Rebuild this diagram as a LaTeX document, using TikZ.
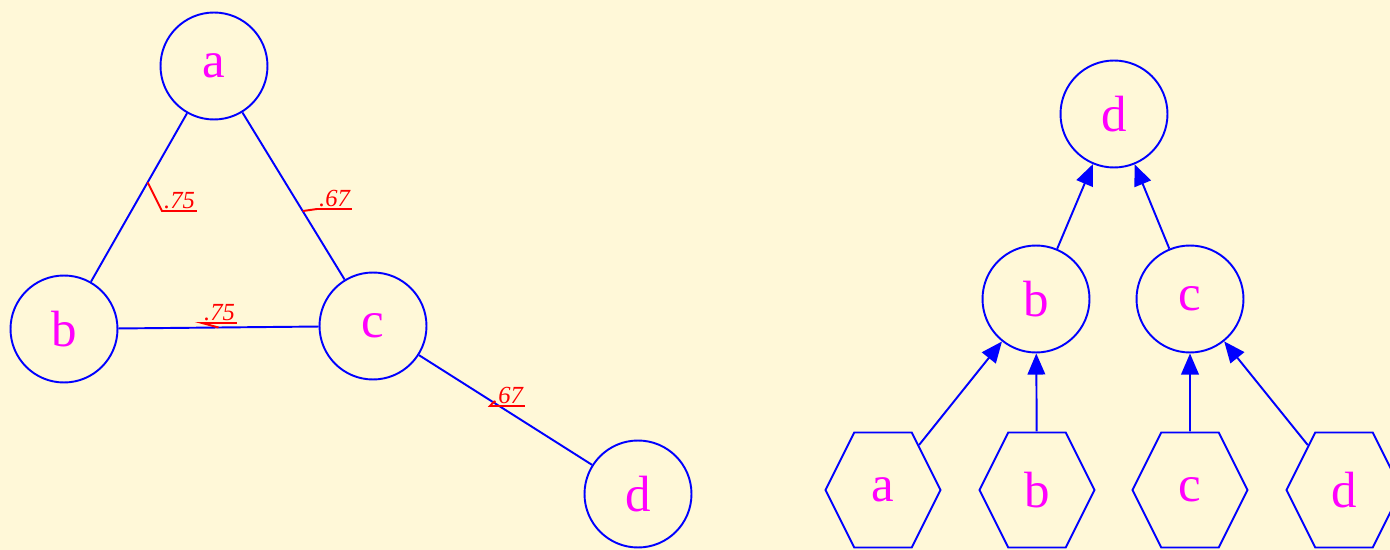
\documentclass[tikz,border=0pt]{standalone}
\usepackage{fontspec}
\setmainfont{Liberation Serif}
\usetikzlibrary{positioning,shapes.geometric,arrows.meta}
\definecolor{gbg}{HTML}{FFF8D8}
\definecolor{gblue}{HTML}{0000FF}
\definecolor{gmag}{HTML}{FF00FF}
\definecolor{gred}{HTML}{FF0000}
% leaf hexagons are stretched upright, so their letters are squeezed back
\newcommand\leaftext[1]{\scalebox{1}[0.866]{#1}}

\begin{document}
\begin{tikzpicture}[
  x=0.02cm,y=-0.02cm,
  vertex/.style={circle,draw=gblue,line width=1.1pt,minimum size=2.14cm,
                 inner sep=0pt,text=gmag,font=\fontsize{29}{34}\selectfont},
  leaf/.style={regular polygon,regular polygon sides=6,yscale=1.1547,
               draw=gblue,line width=1.1pt,minimum size=2.3cm,inner sep=0pt,
               text=gmag,font=\fontsize{29}{34}\selectfont},
  edge/.style={draw=gblue,line width=1.1pt},
  up/.style={edge,-{Triangle[length=12pt,width=10pt]}},
  wt/.style={font=\fontsize{14}{17}\selectfont\itshape,text=gred,
             inner sep=1pt,anchor=south west},
  lead/.style={draw=gred,line width=1.1pt}]

\fill[gbg] (0,0) rectangle (1390,550);
\useasboundingbox (0,0) rectangle (1390,550);

% ---- left: weighted graph ----
\node[vertex] (a) at (214,66) {a};
\node[vertex] (b) at (64,329) {b};
\node[vertex] (c) at (373,326) {c};
\node[vertex] (d) at (638,494) {d};

\draw[edge] (a) -- coordinate[pos=0.41] (ab) (b);
\draw[edge] (a) -- coordinate[pos=0.59] (ac) (c);
\draw[edge] (b) -- coordinate[pos=0.50] (bc) (c);
\draw[edge] (c) -- coordinate[pos=0.43] (cd) (d);

\node[wt] (wab) at (162,211) {.75};
\node[wt] (wac) at (317,209) {.67};
\node[wt] (wbc) at (202,323) {.75};
\node[wt] (wcd) at (490,406) {.67};
\draw[lead] (ab) -- (wab.south west) -- (wab.south east);
\draw[lead] (ac) -- (wac.south west) -- (wac.south east);
\draw[lead] (bc) -- (wbc.south west) -- (wbc.south east);
\draw[lead] (cd) -- (wcd.south west) -- (wcd.south east);

% ---- right: tree over the leaves ----
\node[vertex] (td) at (1114,114) {d};
\node[vertex] (tb) at (1036,299) {b};
\node[vertex] (tc) at (1190,299) {c};
\node[leaf] (ha) at (883,490) {\leaftext{a}};
\node[leaf] (hb) at (1037,490) {\leaftext{b}};
\node[leaf] (hc) at (1190,490) {\leaftext{c}};
\node[leaf] (hd) at (1344,490) {\leaftext{d}};

\draw[up] (tb) -- (td);
\draw[up] (tc) -- (td);
\draw[up] (ha) -- (tb);
\draw[up] (hb) -- (tb);
\draw[up] (hc) -- (tc);
\draw[up] (hd) -- (tc);
\end{tikzpicture}
\end{document}
